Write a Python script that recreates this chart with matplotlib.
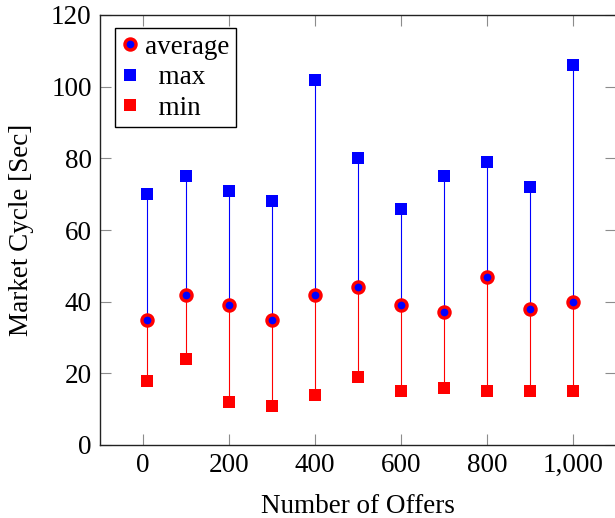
import numpy as np
import matplotlib
matplotlib.use('Agg')
import matplotlib.pyplot as plt
from matplotlib.ticker import FuncFormatter

### Data
offers   = [10, 100, 200, 300, 400, 500, 600, 700, 800, 900, 1000]
average  = [35, 42, 39, 35, 42, 44, 39, 37, 47, 38, 40]
maximum  = [70, 75, 71, 68, 102, 80, 66, 75, 79, 72, 106]
minimum  = [18, 24, 12, 11, 14, 19, 15, 16, 15, 15, 15]

xticks = [0, 200, 400, 600, 800, 1000]
yticks = [0, 20, 40, 60, 80, 100, 120]

### Style
plt.rcParams['font.family'] = ['Liberation Serif', 'DejaVu Serif']
fs = 19.5

fig = plt.figure(figsize=(6.15, 5.18), dpi=100)
W, H = 615., 518.
ax = fig.add_axes([100/W, (H-445)/H, 516/W, 430/H])

### Vertical bars avg->max (blue), avg->min (red)
ax.vlines(offers, average, maximum, colors='b', linewidth=0.8, zorder=2)
ax.vlines(offers, minimum, average, colors='r', linewidth=0.8, zorder=2)

ax.plot(offers, average, linestyle='none', marker='o', markersize=8.0,
        markerfacecolor='b', markeredgecolor='r', markeredgewidth=2.4,
        label='average', zorder=4)
ax.plot(offers, maximum, linestyle='none', marker='s', markersize=8.8,
        color='b', markeredgewidth=0, label='  max', zorder=3)
ax.plot(offers, minimum, linestyle='none', marker='s', markersize=8.8,
        color='r', markeredgewidth=0, label='  min', zorder=3)

### Axes
ax.set_xlim(-100, 1100)
ax.set_ylim(0, 120)
ax.set_xticks(xticks)
ax.set_yticks(yticks)
ax.xaxis.set_major_formatter(FuncFormatter(lambda v, p: '{:,}'.format(int(v))))
ax.tick_params(axis='both', which='major', direction='in', length=8, width=0.8,
               color='#8c8c8c', labelsize=fs, top=True, right=True, pad=6)
for s in ax.spines.values():
    s.set_linewidth(1.0)
    s.set_color('#222222')

ax.set_xlabel('Number of Offers', fontsize=fs, labelpad=11)
ax.set_ylabel('Market Cycle [Sec]', fontsize=fs, labelpad=12)

leg = ax.legend(loc='upper left', bbox_to_anchor=(0.030, 0.970),
                borderaxespad=0, fontsize=fs, fancybox=False, frameon=True,
                handlelength=0.6, handletextpad=0.25, labelspacing=0.2,
                borderpad=0.25, framealpha=1)
leg.get_frame().set_edgecolor('black')
leg.get_frame().set_linewidth(1.0)

plt.savefig('out.png', dpi=100)
